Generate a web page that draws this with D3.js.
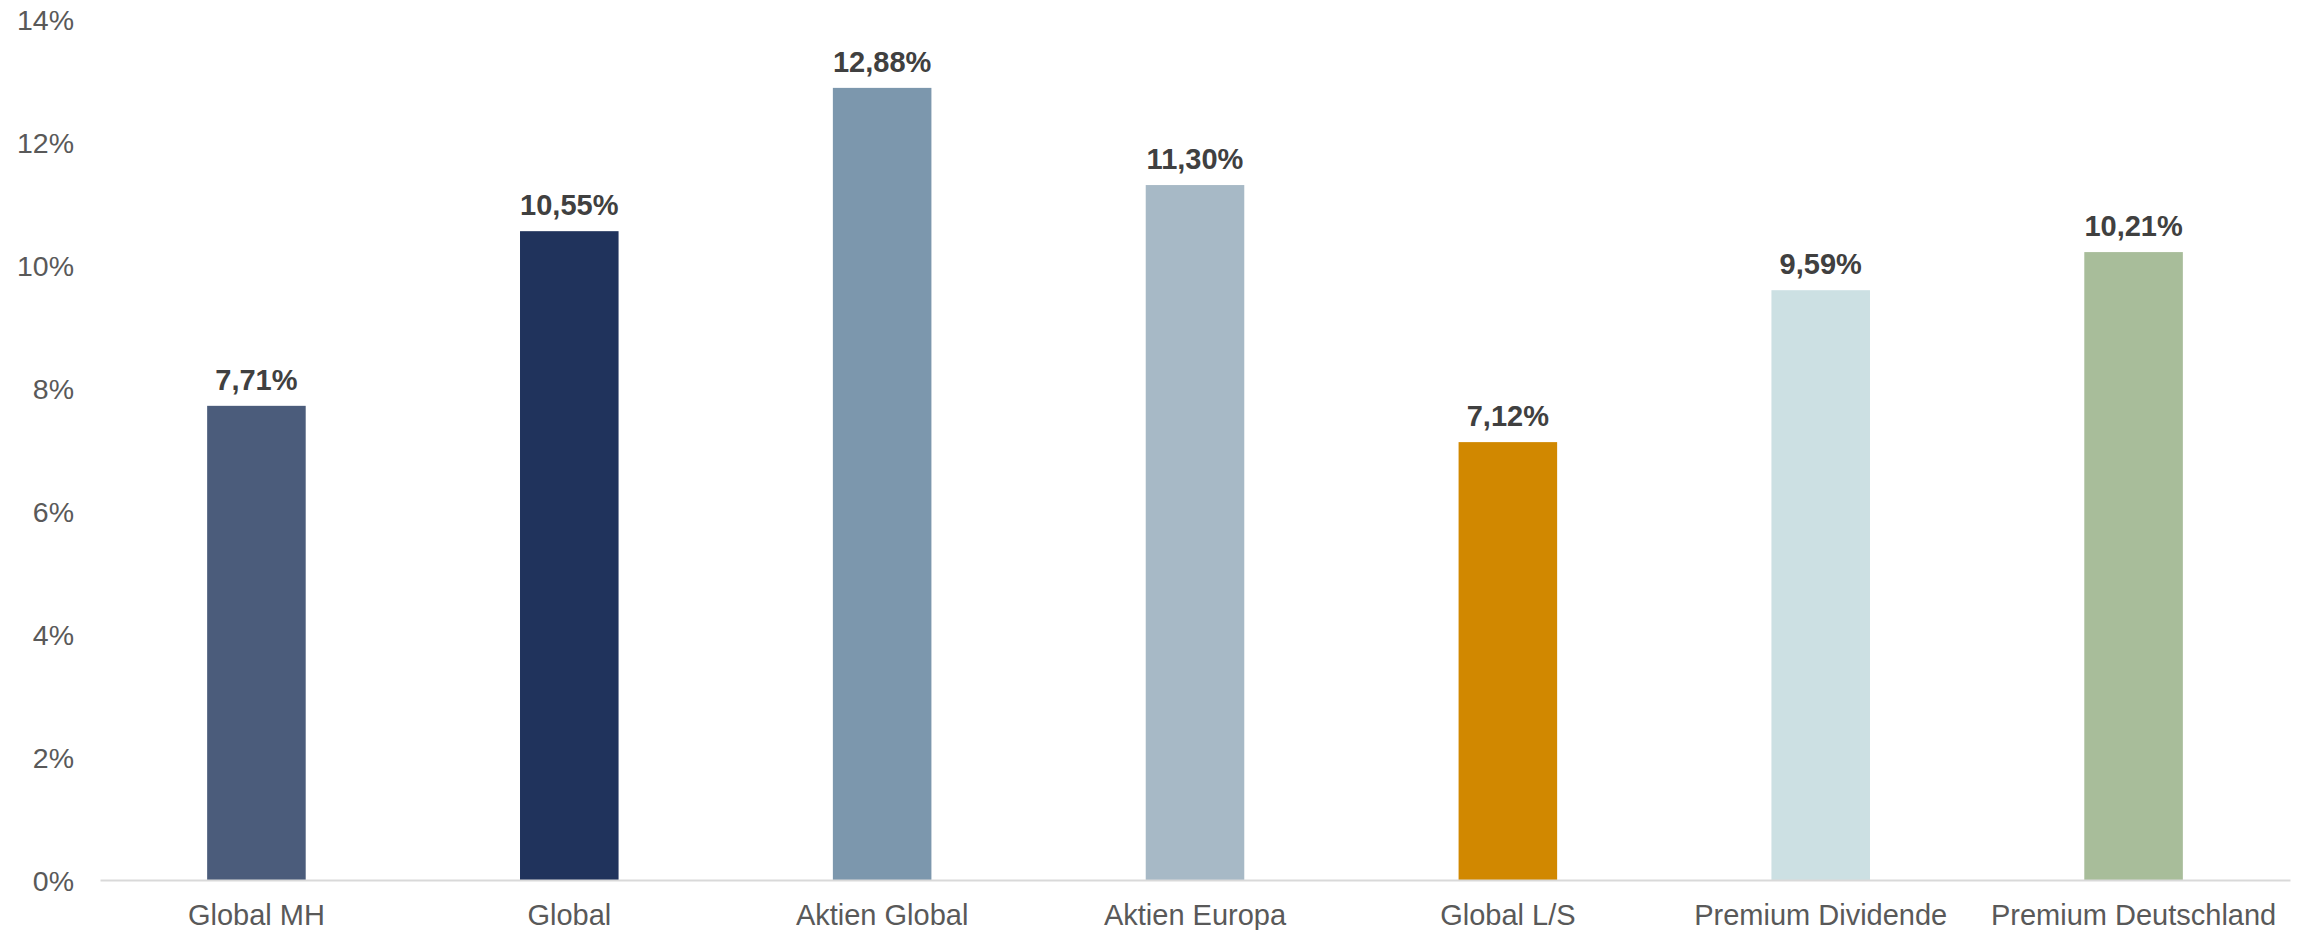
<!DOCTYPE html>
<html><head><meta charset="utf-8">
<script src="https://cdn.jsdelivr.net/npm/d3@7"></script>
<style>body{margin:0;background:#fff}svg{display:block}text{font-family:"Liberation Sans",Arial,sans-serif}</style>
</head><body>
<svg id="c" width="2307" height="930"></svg>
<script>
const categories = ["Global MH","Global","Aktien Global","Aktien Europa","Global L/S","Premium Dividende","Premium Deutschland"];
const values = [7.71,10.55,12.88,11.30,7.12,9.59,10.21];
const colors = ["#4b5c7b","#20335c","#7c97ad","#a7b9c6","#d18800","#cce0e3","#a8bd9a"];
const yTicks = [0,2,4,6,8,10,12,14];

const svg = d3.select("#c");
const x = d3.scaleBand().domain(categories).range([100,2290]).paddingInner(0.685).paddingOuter(0.3425);
const y = d3.scaleLinear().domain([0,14]).range([880,19]);

const fmt = v => v.toFixed(2).replace(".", ",") + "%";

// y axis labels
const ya = svg.append("g").attr("transform","translate(74,0)")
  .call(d3.axisLeft(y).tickValues(yTicks).tickSize(0).tickPadding(0).tickFormat(d=>d+"%"));
ya.select(".domain").remove();
ya.selectAll("text").attr("font-size",28.5).attr("fill","#595959").attr("font-family","Liberation Sans, Arial, sans-serif").attr("dy","0.36em");

// bars
svg.append("g").selectAll("rect").data(values).join("rect")
  .attr("x",(d,i)=>x(categories[i]))
  .attr("width",x.bandwidth())
  .attr("y",d=>y(d))
  .attr("height",d=>y(0)-y(d))
  .attr("fill",(d,i)=>colors[i]);

// value labels
svg.append("g").selectAll("text").data(values).join("text")
  .attr("x",(d,i)=>x(categories[i])+x.bandwidth()/2)
  .attr("y",d=>y(d)-16)
  .attr("text-anchor","middle")
  .attr("font-size",29)
  .attr("font-weight","bold")
  .attr("fill","#404040")
  .text(d=>fmt(d));

// x axis
const xa = svg.append("g").attr("transform","translate(0,880)")
  .call(d3.axisBottom(x).tickSize(0).tickPadding(0).tickSizeOuter(0));
xa.select(".domain").attr("stroke","#d9d9d9").attr("stroke-width",2);
xa.selectAll("text").attr("font-size",29).attr("fill","#595959").attr("font-family","Liberation Sans, Arial, sans-serif").attr("dy",null).attr("y",45);
</script>
</body></html>
